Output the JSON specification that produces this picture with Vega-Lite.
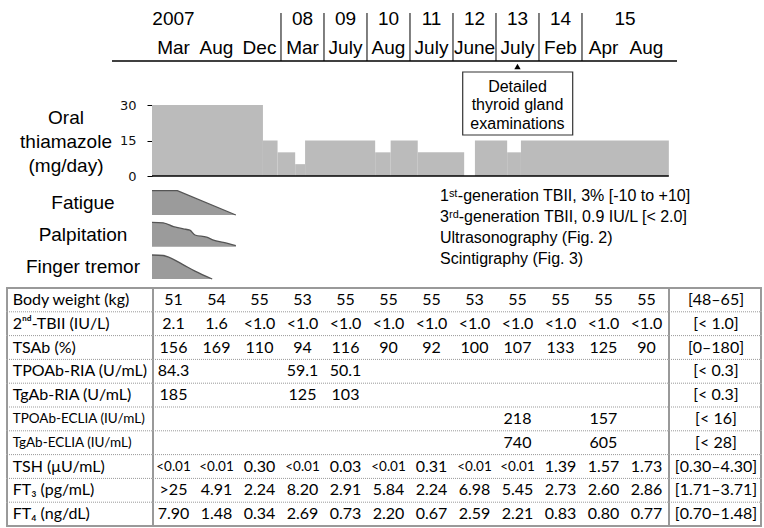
{
"$schema": "https://vega.github.io/schema/vega-lite/v6.json",
"width": 764, "height": 528, "padding": 0,
"autosize": {"type": "none"},
"background": "white",
"config": {"view": {"stroke": null}, "text": {"font": "Liberation Sans", "color": "#111"}},
"data": {"values": [{}]},
"datasets": {
 "visits": [{"n":1,"month":"Mar"},{"n":2,"month":"Aug"},{"n":3,"month":"Dec"},{"n":4,"month":"Mar"},{"n":5,"month":"July"},{"n":6,"month":"Aug"},{"n":7,"month":"July"},{"n":8,"month":"June"},{"n":9,"month":"July"},{"n":10,"month":"Feb"},{"n":11,"month":"Apr"},{"n":12,"month":"Aug"}],
 "years": [{"year":"2007","at":1,"start":null},{"year":"08","at":4,"start":3.5},{"year":"09","at":5,"start":4.5},{"year":"10","at":6,"start":5.5},{"year":"11","at":7,"start":6.5},{"year":"12","at":8,"start":7.5},{"year":"13","at":9,"start":8.5},{"year":"14","at":10,"start":9.5},{"year":"15","at":11.5,"start":10.5}],
 "dose": [{"t0":0.5,"t1":3.08,"mg":30},{"t0":3.08,"t1":3.42,"mg":15},{"t0":3.42,"t1":3.83,"mg":10},{"t0":3.83,"t1":4.06,"mg":5},{"t0":4.06,"t1":5.69,"mg":15},{"t0":5.69,"t1":6.05,"mg":10},{"t0":6.05,"t1":6.68,"mg":15},{"t0":6.68,"t1":7.76,"mg":10},{"t0":7.76,"t1":8.01,"mg":0},{"t0":8.01,"t1":8.76,"mg":15},{"t0":8.76,"t1":9.08,"mg":10},{"t0":9.08,"t1":12.52,"mg":15}],
 "symptoms": [
  {"s":"Fatigue","t":0.5,"lvl":1},{"s":"Fatigue","t":1.09,"lvl":1},{"s":"Fatigue","t":2.45,"lvl":0},
  {"s":"Palpitation","t":0.5,"lvl":1},{"s":"Palpitation","t":0.76,"lvl":0.98},{"s":"Palpitation","t":1.0,"lvl":0.82},{"s":"Palpitation","t":1.23,"lvl":0.73},{"s":"Palpitation","t":1.38,"lvl":0.68},{"s":"Palpitation","t":1.5,"lvl":0.48},{"s":"Palpitation","t":1.77,"lvl":0.39},{"s":"Palpitation","t":1.93,"lvl":0.27},{"s":"Palpitation","t":2.16,"lvl":0.18},{"s":"Palpitation","t":2.45,"lvl":0.04},
  {"s":"Finger tremor","t":0.5,"lvl":1},{"s":"Finger tremor","t":0.76,"lvl":0.98},{"s":"Finger tremor","t":0.9,"lvl":0.9},{"s":"Finger tremor","t":1.2,"lvl":0.62},{"s":"Finger tremor","t":1.5,"lvl":0.33},{"s":"Finger tremor","t":1.9,"lvl":0}],
 "notes": [{"note":"1ˢᵗ-generation TBII, 3% [-10 to +10]"},{"note":"3ʳᵈ-generation TBII, 0.9 IU/L [< 2.0]"},{"note":"Ultrasonography (Fig. 2)"},{"note":"Scintigraphy (Fig. 3)"}],
 "params": [{"p":"bw","label":"Body weight (kg)","range":"[48–65]"},{"p":"tbii","label":"2ⁿᵈ-TBII (IU/L)","range":"[< 1.0]"},{"p":"tsab","label":"TSAb (%)","range":"[0–180]"},{"p":"tporia","label":"TPOAb-RIA (U/mL)","range":"[< 0.3]"},{"p":"tgria","label":"TgAb-RIA (U/mL)","range":"[< 0.3]"},{"p":"tpoecl","label":"TPOAb-ECLIA (IU/mL)","range":"[< 16]"},{"p":"tgecl","label":"TgAb-ECLIA (IU/mL)","range":"[< 28]"},{"p":"tsh","label":"TSH (μU/mL)","range":"[0.30–4.30]"},{"p":"ft3","label":"FT₃ (pg/mL)","range":"[1.71–3.71]"},{"p":"ft4","label":"FT₄ (ng/dL)","range":"[0.70–1.48]"}],
 "labs": [
  {"p":"bw","c":1,"v":"51"},{"p":"bw","c":2,"v":"54"},{"p":"bw","c":3,"v":"55"},{"p":"bw","c":4,"v":"53"},{"p":"bw","c":5,"v":"55"},{"p":"bw","c":6,"v":"55"},{"p":"bw","c":7,"v":"55"},{"p":"bw","c":8,"v":"53"},{"p":"bw","c":9,"v":"55"},{"p":"bw","c":10,"v":"55"},{"p":"bw","c":11,"v":"55"},{"p":"bw","c":12,"v":"55"},
  {"p":"tbii","c":1,"v":"2.1"},{"p":"tbii","c":2,"v":"1.6"},{"p":"tbii","c":3,"v":"<1.0"},{"p":"tbii","c":4,"v":"<1.0"},{"p":"tbii","c":5,"v":"<1.0"},{"p":"tbii","c":6,"v":"<1.0"},{"p":"tbii","c":7,"v":"<1.0"},{"p":"tbii","c":8,"v":"<1.0"},{"p":"tbii","c":9,"v":"<1.0"},{"p":"tbii","c":10,"v":"<1.0"},{"p":"tbii","c":11,"v":"<1.0"},{"p":"tbii","c":12,"v":"<1.0"},
  {"p":"tsab","c":1,"v":"156"},{"p":"tsab","c":2,"v":"169"},{"p":"tsab","c":3,"v":"110"},{"p":"tsab","c":4,"v":"94"},{"p":"tsab","c":5,"v":"116"},{"p":"tsab","c":6,"v":"90"},{"p":"tsab","c":7,"v":"92"},{"p":"tsab","c":8,"v":"100"},{"p":"tsab","c":9,"v":"107"},{"p":"tsab","c":10,"v":"133"},{"p":"tsab","c":11,"v":"125"},{"p":"tsab","c":12,"v":"90"},
  {"p":"tporia","c":1,"v":"84.3"},{"p":"tporia","c":4,"v":"59.1"},{"p":"tporia","c":5,"v":"50.1"},
  {"p":"tgria","c":1,"v":"185"},{"p":"tgria","c":4,"v":"125"},{"p":"tgria","c":5,"v":"103"},
  {"p":"tpoecl","c":9,"v":"218"},{"p":"tpoecl","c":11,"v":"157"},
  {"p":"tgecl","c":9,"v":"740"},{"p":"tgecl","c":11,"v":"605"},
  {"p":"tsh","c":1,"v":"<0.01"},{"p":"tsh","c":2,"v":"<0.01"},{"p":"tsh","c":3,"v":"0.30"},{"p":"tsh","c":4,"v":"<0.01"},{"p":"tsh","c":5,"v":"0.03"},{"p":"tsh","c":6,"v":"<0.01"},{"p":"tsh","c":7,"v":"0.31"},{"p":"tsh","c":8,"v":"<0.01"},{"p":"tsh","c":9,"v":"<0.01"},{"p":"tsh","c":10,"v":"1.39"},{"p":"tsh","c":11,"v":"1.57"},{"p":"tsh","c":12,"v":"1.73"},
  {"p":"ft3","c":1,"v":">25"},{"p":"ft3","c":2,"v":"4.91"},{"p":"ft3","c":3,"v":"2.24"},{"p":"ft3","c":4,"v":"8.20"},{"p":"ft3","c":5,"v":"2.91"},{"p":"ft3","c":6,"v":"5.84"},{"p":"ft3","c":7,"v":"2.24"},{"p":"ft3","c":8,"v":"6.98"},{"p":"ft3","c":9,"v":"5.45"},{"p":"ft3","c":10,"v":"2.73"},{"p":"ft3","c":11,"v":"2.60"},{"p":"ft3","c":12,"v":"2.86"},
  {"p":"ft4","c":1,"v":"7.90"},{"p":"ft4","c":2,"v":"1.48"},{"p":"ft4","c":3,"v":"0.34"},{"p":"ft4","c":4,"v":"2.69"},{"p":"ft4","c":5,"v":"0.73"},{"p":"ft4","c":6,"v":"2.20"},{"p":"ft4","c":7,"v":"0.67"},{"p":"ft4","c":8,"v":"2.59"},{"p":"ft4","c":9,"v":"2.21"},{"p":"ft4","c":10,"v":"0.83"},{"p":"ft4","c":11,"v":"0.80"},{"p":"ft4","c":12,"v":"0.77"}]
},
"resolve": {"scale": {"y": "independent"}, "axis": {"y": "independent"}},
"layer": [
 {"layer": [
  {"mark": {"type": "rule", "color": "#000", "strokeWidth": 1.5},
   "encoding": {"x": {"datum": -0.43, "type": "quantitative", "scale": {"domain": [-3.035, 14.733], "nice": false, "zero": false}, "axis": null}, "x2": {"datum": 12.71},
    "y": {"datum": 0, "type": "quantitative", "scale": {"domain": [0, 1], "range": [61, 13], "nice": false, "zero": false}, "axis": null}}},
  {"data": {"name": "years"}, "transform": [{"filter": "datum.start != null"}],
   "mark": {"type": "rule", "color": "#000", "strokeWidth": 1},
   "encoding": {"x": {"field": "start", "type": "quantitative", "scale": {"domain": [-3.035, 14.733], "nice": false, "zero": false}, "axis": null},
    "y": {"datum": 0, "type": "quantitative", "scale": {"domain": [0, 1], "range": [61, 13], "nice": false, "zero": false}, "axis": null}, "y2": {"datum": 1}}},
  {"data": {"name": "years"},
   "mark": {"type": "text", "fontSize": 19, "baseline": "middle", "align": "center", "color": "#000"},
   "encoding": {"x": {"field": "at", "type": "quantitative", "scale": {"domain": [-3.035, 14.733], "nice": false, "zero": false}, "axis": null},
    "y": {"datum": 0.879, "type": "quantitative", "scale": {"domain": [0, 1], "range": [61, 13], "nice": false, "zero": false}, "axis": null},
    "text": {"field": "year"}}},
  {"data": {"name": "visits"},
   "mark": {"type": "text", "fontSize": 19, "baseline": "middle", "align": "center", "color": "#000"},
   "encoding": {"x": {"field": "n", "type": "quantitative", "scale": {"domain": [-3.035, 14.733], "nice": false, "zero": false}, "axis": null},
    "y": {"datum": 0.275, "type": "quantitative", "scale": {"domain": [0, 1], "range": [61, 13], "nice": false, "zero": false}, "axis": null},
    "text": {"field": "month"}}}
 ]},
 {"layer": [
  {"data": {"name": "dose"},
   "mark": {"type": "rect", "color": "#bbbbbb"},
   "encoding": {"x": {"field": "t0", "type": "quantitative", "scale": {"domain": [-3.035, 14.733], "nice": false, "zero": false}, "axis": null}, "x2": {"field": "t1"},
    "y": {"field": "mg", "type": "quantitative", "scale": {"domain": [0, 30], "range": [176, 105], "nice": false, "zero": false},
     "axis": {"values": [0, 15, 30], "domain": false, "grid": false, "ticks": true, "tickSize": 5, "tickColor": "#000", "tickWidth": 1, "labelFont": "DejaVu Sans", "labelFontSize": 13, "labelColor": "#111", "labelPadding": 11, "title": null, "offset": -152}},
    "y2": {"datum": 0}}},
  {"mark": {"type": "rule", "color": "#000", "strokeWidth": 1.5},
   "encoding": {"x": {"datum": 0.5, "type": "quantitative", "scale": {"domain": [-3.035, 14.733], "nice": false, "zero": false}, "axis": null}, "x2": {"datum": 12.52},
    "y": {"datum": 0, "type": "quantitative"}}},
  {"mark": {"type": "text", "text": ["Oral", "thiamazole", "(mg/day)"], "fontSize": 19, "baseline": "top", "align": "center", "lineHeight": 24, "color": "#000"},
   "encoding": {"x": {"datum": -1.5, "type": "quantitative", "scale": {"domain": [-3.035, 14.733], "nice": false, "zero": false}, "axis": null},
    "y": {"datum": 28.4, "type": "quantitative"}}}
 ]},
 {"layer": [
  {"mark": {"type": "rect", "fill": "white", "stroke": "#333", "strokeWidth": 1.2},
   "encoding": {"x": {"datum": 7.726, "type": "quantitative", "scale": {"domain": [-3.035, 14.733], "nice": false, "zero": false}, "axis": null}, "x2": {"datum": 10.284},
    "y": {"datum": 0, "type": "quantitative", "scale": {"domain": [0, 1], "range": [135, 72], "nice": false, "zero": false}, "axis": null}, "y2": {"datum": 1}}},
  {"mark": {"type": "text", "text": ["Detailed", "thyroid gland", "examinations"], "fontSize": 16, "baseline": "top", "align": "center", "lineHeight": 18.7, "color": "#000"},
   "encoding": {"x": {"datum": 9, "type": "quantitative", "scale": {"domain": [-3.035, 14.733], "nice": false, "zero": false}, "axis": null},
    "y": {"datum": 0.892, "type": "quantitative", "scale": {"domain": [0, 1], "range": [135, 72], "nice": false, "zero": false}, "axis": null}}},
  {"mark": {"type": "point", "shape": "triangle-up", "filled": true, "color": "#000", "size": 40, "opacity": 1},
   "encoding": {"x": {"datum": 9, "type": "quantitative", "scale": {"domain": [-3.035, 14.733], "nice": false, "zero": false}, "axis": null},
    "y": {"datum": 1.087, "type": "quantitative", "scale": {"domain": [0, 1], "range": [135, 72], "nice": false, "zero": false}, "axis": null}}}
 ]},
 {"layer": [
  {"data": {"name": "symptoms"}, "transform": [{"filter": "datum.s === 'Fatigue'"}],
   "mark": {"type": "area", "color": "#9b9b9b", "opacity": 1, "interpolate": "linear", "line": {"color": "#555", "strokeWidth": 1.3}},
   "encoding": {"x": {"field": "t", "type": "quantitative", "scale": {"domain": [-3.035, 14.733], "nice": false, "zero": false}, "axis": null},
    "y": {"field": "lvl", "type": "quantitative", "scale": {"domain": [0, 1], "range": [215, 190.7], "nice": false, "zero": false}, "axis": null}}},
  {"mark": {"type": "text", "text": "Fatigue", "fontSize": 19, "baseline": "middle", "align": "center", "color": "#000"},
   "encoding": {"x": {"datum": -1.105, "type": "quantitative", "scale": {"domain": [-3.035, 14.733], "nice": false, "zero": false}, "axis": null},
    "y": {"datum": 0.5, "type": "quantitative"}}}
 ]},
 {"layer": [
  {"data": {"name": "symptoms"}, "transform": [{"filter": "datum.s === 'Palpitation'"}],
   "mark": {"type": "area", "color": "#9b9b9b", "opacity": 1, "interpolate": "monotone", "line": {"color": "#555", "strokeWidth": 1.3}},
   "encoding": {"x": {"field": "t", "type": "quantitative", "scale": {"domain": [-3.035, 14.733], "nice": false, "zero": false}, "axis": null},
    "y": {"field": "lvl", "type": "quantitative", "scale": {"domain": [0, 1], "range": [246.7, 222.3], "nice": false, "zero": false}, "axis": null}}},
  {"mark": {"type": "text", "text": "Palpitation", "fontSize": 19, "baseline": "middle", "align": "center", "color": "#000"},
   "encoding": {"x": {"datum": -1.105, "type": "quantitative", "scale": {"domain": [-3.035, 14.733], "nice": false, "zero": false}, "axis": null},
    "y": {"datum": 0.5, "type": "quantitative"}}}
 ]},
 {"layer": [
  {"data": {"name": "symptoms"}, "transform": [{"filter": "datum.s === 'Finger tremor'"}],
   "mark": {"type": "area", "color": "#9b9b9b", "opacity": 1, "interpolate": "monotone", "line": {"color": "#555", "strokeWidth": 1.3}},
   "encoding": {"x": {"field": "t", "type": "quantitative", "scale": {"domain": [-3.035, 14.733], "nice": false, "zero": false}, "axis": null},
    "y": {"field": "lvl", "type": "quantitative", "scale": {"domain": [0, 1], "range": [279, 255], "nice": false, "zero": false}, "axis": null}}},
  {"mark": {"type": "text", "text": "Finger tremor", "fontSize": 19, "baseline": "middle", "align": "center", "color": "#000"},
   "encoding": {"x": {"datum": -1.105, "type": "quantitative", "scale": {"domain": [-3.035, 14.733], "nice": false, "zero": false}, "axis": null},
    "y": {"datum": 0.5, "type": "quantitative"}}}
 ]},
 {"data": {"name": "notes"},
  "mark": {"type": "text", "align": "left", "baseline": "middle", "fontSize": 16, "color": "#000"},
  "encoding": {"x": {"datum": 7.198, "type": "quantitative", "scale": {"domain": [-3.035, 14.733], "nice": false, "zero": false}, "axis": null},
   "y": {"field": "note", "type": "ordinal", "sort": null, "scale": {"type": "point", "range": [195.7, 259], "padding": 0}, "axis": null},
   "text": {"field": "note"}}},
 {"layer": [
  {"data": {"name": "params"}, "mark": {"type": "rect", "color": "#999"},
   "encoding": {"x": {"datum": -2.895, "type": "quantitative", "scale": {"domain": [-3.035, 14.733], "nice": false, "zero": false}, "axis": null}, "x2": {"datum": -2.849},
    "y": {"field": "p", "type": "nominal", "scale": {"type": "band", "domain": ["bw","tbii","tsab","tporia","tgria","tpoecl","tgecl","tsh","ft3","ft4"], "range": [288, 526], "paddingInner": 0, "paddingOuter": 0}, "axis": null}}},
  {"data": {"name": "params"}, "mark": {"type": "rect", "color": "#999"},
   "encoding": {"x": {"datum": 0.5, "type": "quantitative", "scale": {"domain": [-3.035, 14.733], "nice": false, "zero": false}, "axis": null}, "x2": {"datum": 0.547},
    "y": {"field": "p", "type": "nominal"}}},
  {"data": {"name": "params"}, "mark": {"type": "rect", "color": "#999"},
   "encoding": {"x": {"datum": 12.5, "type": "quantitative", "scale": {"domain": [-3.035, 14.733], "nice": false, "zero": false}, "axis": null}, "x2": {"datum": 12.547},
    "y": {"field": "p", "type": "nominal"}}},
  {"data": {"name": "params"}, "mark": {"type": "rect", "color": "#999"},
   "encoding": {"x": {"datum": 14.64, "type": "quantitative", "scale": {"domain": [-3.035, 14.733], "nice": false, "zero": false}, "axis": null}, "x2": {"datum": 14.686},
    "y": {"field": "p", "type": "nominal"}}},
  {"data": {"name": "params"}, "transform": [{"filter": "datum.p !== 'ft4'"}],
   "mark": {"type": "rule", "color": "#999", "strokeWidth": 1, "strokeDash": [1, 1]},
   "encoding": {"x": {"datum": -2.872, "type": "quantitative", "scale": {"domain": [-3.035, 14.733], "nice": false, "zero": false}, "axis": null}, "x2": {"datum": 14.663},
    "y": {"field": "p", "type": "nominal", "bandPosition": 1}}},
  {"data": {"name": "params"}, "transform": [{"filter": "datum.p === 'bw'"}],
   "mark": {"type": "rule", "color": "#999", "strokeWidth": 2},
   "encoding": {"x": {"datum": -2.895, "type": "quantitative", "scale": {"domain": [-3.035, 14.733], "nice": false, "zero": false}, "axis": null}, "x2": {"datum": 14.686},
    "y": {"field": "p", "type": "nominal", "bandPosition": 0}}},
  {"data": {"name": "params"}, "transform": [{"filter": "datum.p === 'ft4'"}],
   "mark": {"type": "rule", "color": "#999", "strokeWidth": 2},
   "encoding": {"x": {"datum": -2.895, "type": "quantitative", "scale": {"domain": [-3.035, 14.733], "nice": false, "zero": false}, "axis": null}, "x2": {"datum": 14.686},
    "y": {"field": "p", "type": "nominal", "bandPosition": 1}}},
  {"data": {"name": "params"},
   "mark": {"type": "text", "align": "left", "baseline": "middle", "font": "Lato", "color": "#000"},
   "encoding": {"x": {"datum": -2.74, "type": "quantitative", "scale": {"domain": [-3.035, 14.733], "nice": false, "zero": false}, "axis": null},
    "y": {"field": "p", "type": "nominal"},
    "text": {"field": "label"},
    "size": {"condition": {"test": "datum.p === 'tpoecl' || datum.p === 'tgecl'", "value": 13.5}, "value": 16}}},
  {"data": {"name": "params"},
   "mark": {"type": "text", "align": "center", "baseline": "middle", "font": "Lato", "fontSize": 16, "color": "#000"},
   "encoding": {"x": {"datum": 13.616, "type": "quantitative", "scale": {"domain": [-3.035, 14.733], "nice": false, "zero": false}, "axis": null},
    "y": {"field": "p", "type": "nominal"},
    "text": {"field": "range"}}},
  {"data": {"name": "labs"},
   "mark": {"type": "text", "align": "center", "baseline": "middle", "font": "Lato", "color": "#000"},
   "encoding": {"x": {"field": "c", "type": "quantitative", "scale": {"domain": [-3.035, 14.733], "nice": false, "zero": false}, "axis": null},
    "y": {"field": "p", "type": "nominal"},
    "text": {"field": "v"},
    "size": {"condition": {"test": "datum.v === '<0.01'", "value": 13.5}, "value": 16}}}
 ]}
]
}
